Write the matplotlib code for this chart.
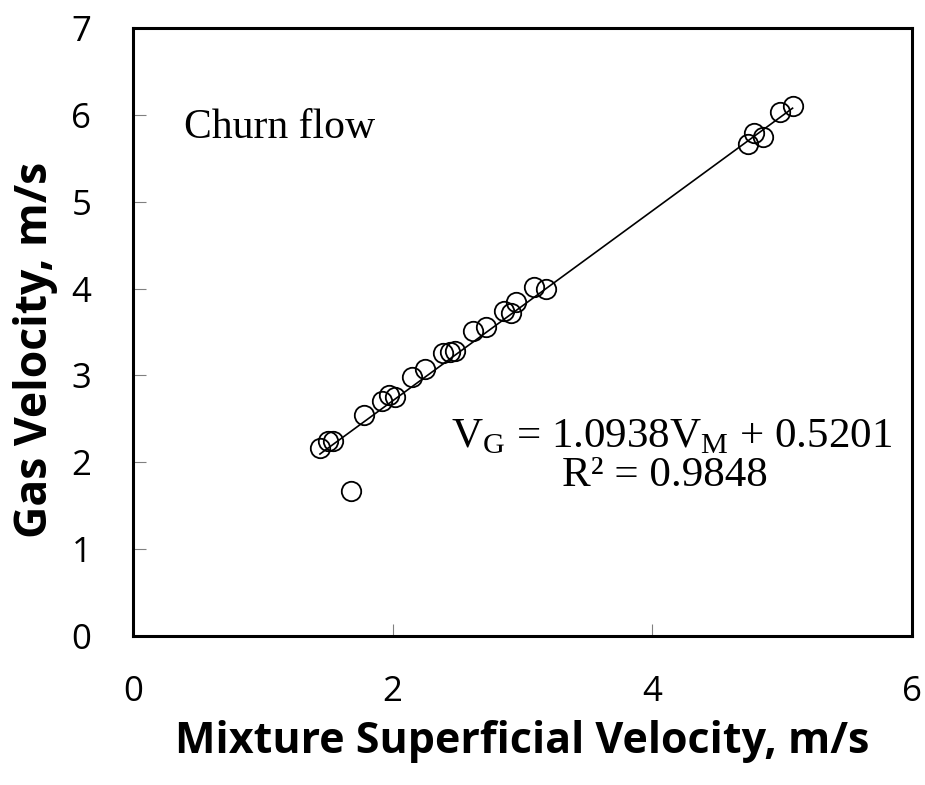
import numpy as np
import matplotlib.pyplot as plt

# Churn flow data
vm = [1.44, 1.50, 1.54, 1.68, 1.78, 1.92, 1.97, 2.02, 2.15, 2.25, 2.39, 2.44, 2.48,
      2.62, 2.72, 2.86, 2.91, 2.95, 3.09, 3.18, 4.74, 4.78, 4.85, 4.98, 5.08]
vg = [2.16, 2.24, 2.24, 1.67, 2.54, 2.70, 2.78, 2.75, 2.98, 3.07, 3.26, 3.27, 3.28,
      3.51, 3.56, 3.74, 3.72, 3.84, 4.02, 3.99, 5.67, 5.79, 5.74, 6.03, 6.10]
slope, intercept = 1.0938, 0.5201
xticks = [0, 2, 4, 6]
yticks = [0, 1, 2, 3, 4, 5, 6, 7]

fig = plt.figure(figsize=(9.25, 7.85), dpi=100)
ax = fig.add_axes([133 / 925, 149 / 785, 779 / 925, 608 / 785])

xfit = np.array([min(vm), max(vm)])
ax.plot(xfit, slope * xfit + intercept, color="black", lw=1.2)
ax.plot(vm, vg, "o", mfc="none", mec="black", ms=14, mew=1.3)

ax.set_xlim(0, 6)
ax.set_ylim(0, 7)
ax.set_xticks(xticks)
ax.set_yticks(yticks)
ax.tick_params(direction="in", length=9, color="gray", labelsize=25)
ax.tick_params(axis="x", pad=28)
ax.tick_params(axis="y", pad=30)
for lab in ax.get_xticklabels() + ax.get_yticklabels():
    lab.set_family("Open Sans")
for s in ax.spines.values():
    s.set_linewidth(2.2)

ax.set_xlabel("Mixture Superficial Velocity, m/s", fontsize=31, fontweight="bold",
              family="Open Sans", labelpad=8)
ax.set_ylabel("Gas Velocity, m/s", fontsize=32, fontweight="bold",
              family="Open Sans", labelpad=6)
ax.yaxis.set_label_coords(-0.096, 0.47)

ax.text(0.39, 5.85, "Churn flow", fontsize=30, family="Liberation Serif", va="center")
ax.text(4.15, 2.3, r"V$_\mathregular{G}$ = 1.0938V$_\mathregular{M}$ + 0.5201",
        fontsize=31, family="Liberation Serif", ha="center", va="center")
ax.text(4.1, 1.85, "R² = 0.9848", fontsize=31, family="Liberation Serif",
        ha="center", va="center")

fig.savefig("out.png")
